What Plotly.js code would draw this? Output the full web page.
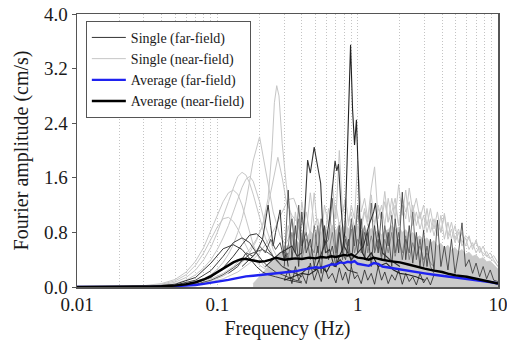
<!DOCTYPE html>
<html><head><meta charset="utf-8">
<script src="https://cdn.plot.ly/plotly-3.0.1.min.js"></script>
<style>html,body{margin:0;padding:0;background:#fff;}#chart{width:507px;height:343px;}</style>
</head><body><div id="chart"></div>
<script>
// ---------- tick labels ----------
const xDecades = [0.01, 0.1, 1, 10];
const xDecadeLabels = ['0.01', '0.1', '1', '10'];
const yTickVals = [0, 0.8, 1.6, 2.4, 3.2, 4.0];
const yTickText = ['0.0', '0.8', '1.6', '2.4', '3.2', '4.0'];

// ---------- frequency grids (Hz) ----------
const freqHi = [0.30,0.32,0.34,0.36,0.38,0.40,0.43,0.46,0.49,0.52,0.55,0.58,0.62,0.66,0.70,0.74,0.78,0.82,0.86,0.90,0.95,1.00,1.06,1.12,1.18,1.25,1.32,1.40,1.48,1.56,1.65,1.75,1.85,1.96,2.08,2.20,2.33,2.47,2.62,2.78,2.95,3.12,3.30,3.50,3.70,3.92,4.15,4.40,4.66,4.94,5.23,5.54,5.87,6.22,6.59,6.98,7.40,7.84,8.30,8.80,9.32,10.0];
const nearMassFreq = [0.18,0.21,0.24,0.27,0.30,0.32,0.34,0.36,0.38,0.40,0.43,0.46,0.49,0.52,0.55,0.58,0.62,0.66,0.70,0.74,0.78,0.82,0.86,0.90,0.95,1.00,1.06,1.12,1.18,1.25,1.32,1.40,1.48,1.56,1.65,1.75,1.85,1.96,2.08,2.20,2.33,2.47,2.62,2.78,2.95,3.12,3.30,3.50,3.70,3.92,4.15,4.40,4.66,4.94,5.23,5.54,5.87,6.22,6.59,6.98,7.40,7.84,8.30,8.80,9.32,10.0];
const nearSmoothFreq = [0.02,0.03,0.04,0.05,0.06,0.07,0.08,0.09,0.10,0.11,0.12,0.13,0.14,0.15,0.16,0.17,0.18,0.20,0.22,0.25,0.28,0.32,0.36,0.40];
const nearEFreq = [0.03,0.05,0.07,0.09,0.11,0.13,0.15,0.17,0.19,0.21,0.23,0.245,0.255,0.265,0.275,0.29,0.31,0.33,0.36,0.40,0.45,0.50];
const nearFFreq = [0.03,0.05,0.07,0.09,0.11,0.13,0.15,0.17,0.19,0.21,0.23,0.25,0.27,0.29,0.31,0.34,0.37,0.40,0.45,0.50];
const nearGFreq = [0.05,0.08,0.11,0.14,0.17,0.20,0.23,0.26,0.29,0.32,0.35,0.38,0.42,0.46,0.50];
const farSmoothFreq = [0.03,0.05,0.07,0.09,0.11,0.13,0.15,0.17,0.19,0.21,0.23,0.26,0.29,0.32,0.36,0.40];
const farSpikeFreq = [0.30,0.35,0.40,0.45,0.50,0.55,0.60,0.65,0.70,0.74,0.78,0.81,0.84,0.87,0.89,0.92,0.95,0.98,1.01,1.04,1.08,1.15,1.25,1.40,1.60,1.80,2.00,2.30,2.60,3.00];
const farDoubleFreq = [0.22,0.25,0.28,0.31,0.34,0.37,0.40,0.42,0.44,0.46,0.475,0.49,0.51,0.53,0.545,0.56,0.59,0.63,0.68,0.75,0.85,1.00];
const farPeak07Freq = [0.40,0.45,0.50,0.55,0.60,0.63,0.66,0.69,0.71,0.73,0.76,0.80,0.85,0.90,1.00,1.10,1.20,1.30,1.34,1.40,1.50,1.70,2.00];
const farMidAFreq = [0.15,0.17,0.19,0.21,0.22,0.23,0.24,0.25,0.26,0.27,0.28,0.29,0.30,0.31,0.32];
const farMidBFreq = [0.12,0.14,0.16,0.18,0.20,0.22,0.24,0.26,0.28,0.30,0.32];
const avgFreq = [0.01,0.02,0.03,0.04,0.05,0.06,0.07,0.08,0.09,0.10,0.11,0.12,0.13,0.14,0.15,0.16,0.18,0.20,0.22,0.24,0.26,0.28,0.30,0.33,0.36,0.40,0.45,0.50,0.55,0.60,0.65,0.70,0.75,0.80,0.85,0.90,0.95,1.00,1.10,1.20,1.30,1.40,1.50,1.70,2.00,2.30,2.60,3.00,3.50,4.00,4.50,5.00,6.00,7.00,8.00,9.00,10.0];

// ---------- near-field singles (cm/s) ----------
const nearMass = [0.05,0.20,0.35,0.45,0.55,0.62,0.55,0.70,0.64,0.78,0.70,0.82,0.75,0.86,0.78,0.88,0.80,0.90,0.82,0.92,0.84,0.90,0.85,0.93,0.84,0.90,0.82,0.88,0.80,0.86,0.78,0.84,0.76,0.82,0.84,0.90,0.84,0.88,0.80,0.84,0.76,0.80,0.72,0.75,0.68,0.72,0.64,0.68,0.60,0.64,0.57,0.61,0.54,0.58,0.51,0.55,0.48,0.51,0.45,0.47,0.41,0.43,0.37,0.38,0.32,0.26];
const nearA = [0.00,0.01,0.03,0.07,0.14,0.25,0.40,0.58,0.80,1.02,1.25,1.45,1.62,1.68,1.64,1.52,1.36,1.02,0.72,0.45,0.32,0.22,0.18,0.12];
const nearB = [0.00,0.01,0.02,0.05,0.10,0.18,0.28,0.40,0.55,0.72,0.90,1.10,1.30,1.46,1.58,1.62,1.55,1.25,0.90,0.55,0.35,0.25,0.20,0.15];
const nearC = [0.00,0.02,0.05,0.11,0.22,0.38,0.58,0.82,1.05,1.25,1.38,1.42,1.36,1.20,1.00,0.80,0.62,0.40,0.28,0.20,0.15,0.12,0.10,0.08];
const nearD = [0.00,0.00,0.01,0.02,0.04,0.07,0.12,0.18,0.26,0.36,0.48,0.62,0.80,1.00,1.25,1.55,1.85,2.20,1.75,1.10,0.75,0.55,0.45,0.35];
const nearH = [0.00,0.01,0.04,0.09,0.18,0.32,0.50,0.70,0.88,1.00,1.02,0.96,0.85,0.72,0.60,0.50,0.42,0.32,0.26,0.20,0.16,0.12,0.10,0.08];
const nearE = [0,0.02,0.06,0.12,0.20,0.30,0.42,0.55,0.70,0.90,1.30,2.00,2.70,2.95,2.80,2.10,1.50,1.10,0.80,0.60,0.45,0.35];
const nearF = [0,0.01,0.04,0.09,0.16,0.25,0.36,0.50,0.68,0.90,1.20,1.55,1.90,1.60,1.25,1.05,0.95,0.70,0.50,0.35];
const nearG = [0.01,0.05,0.12,0.22,0.35,0.50,0.68,0.88,1.10,1.28,1.30,1.10,0.85,0.60,0.45];
const nearN1 = [0.5,0.9,0.6,1.1,0.7,1.25,0.8,1.38,0.9,1.0,0.7,1.2,0.9,1.5,1.0,2.0,1.1,1.3,0.9,1.2,1.0,1.85,1.1,1.3,1.0,1.45,1.76,1.0,1.2,0.9,1.3,1.0,1.2,0.9,1.3,1.1,1.25,0.9,1.1,0.85,1.05,0.8,1.0,0.75,0.95,0.8,1.05,0.7,0.85,0.65,0.8,0.6,0.72,0.55,0.65,0.5,0.6,0.45,0.52,0.42,0.46,0.35];
const nearN2 = [0.6,0.7,1.0,0.6,0.9,0.7,1.1,0.75,1.38,0.8,1.0,0.7,1.15,0.8,1.2,0.9,1.05,1.3,0.95,1.1,0.85,1.2,0.9,1.15,0.95,1.35,0.9,1.2,1.0,1.4,0.95,1.3,1.0,1.5,1.05,1.42,0.95,1.2,0.9,1.1,0.8,1.15,0.8,1.0,0.75,1.05,0.7,0.95,0.7,0.9,0.65,0.8,0.6,0.75,0.55,0.69,0.5,0.6,0.45,0.5,0.4,0.3];
const nearN3 = [0.4,0.5,0.45,0.6,0.5,0.7,0.55,0.75,0.6,0.8,0.65,0.85,0.7,0.9,0.75,0.95,0.8,1.0,0.75,0.9,0.8,1.05,0.85,1.1,0.9,1.0,0.95,1.15,1.0,1.25,0.95,1.1,1.3,0.9,1.2,1.0,1.45,1.1,1.3,1.0,1.2,0.9,1.15,0.85,1.1,0.8,1.08,0.75,0.95,0.7,0.85,0.65,0.75,0.7,0.6,0.65,0.55,0.5,0.45,0.42,0.38,0.3];

// ---------- far-field singles (cm/s) ----------
const farA = [0,0.02,0.06,0.14,0.28,0.45,0.62,0.76,0.78,0.70,0.55,0.40,0.30,0.25,0.20,0.15];
const farB = [0,0.03,0.10,0.24,0.45,0.65,0.72,0.65,0.50,0.38,0.30,0.22,0.18,0.14,0.10,0.08];
const farC = [0,0.01,0.04,0.10,0.18,0.28,0.38,0.48,0.52,0.55,0.50,0.42,0.30,0.25,0.20,0.15];
const farD = [0,0.04,0.14,0.35,0.56,0.62,0.55,0.42,0.30,0.22,0.18,0.15,0.12,0.10,0.08,0.06];
const farSpike = [0.10,0.15,0.20,0.18,0.25,0.30,0.22,0.35,0.30,0.45,0.55,0.80,1.80,3.00,3.55,2.60,2.08,2.45,1.60,0.90,0.50,0.40,0.50,0.30,0.35,0.25,0.20,0.18,0.15,0.10];
const farDouble = [0.30,0.40,0.50,0.55,0.60,0.45,0.50,1.10,1.86,1.67,1.85,2.05,1.85,1.65,1.52,1.00,0.50,0.55,0.30,0.40,0.25,0.20];
const farPeak07 = [0.20,0.30,0.25,0.50,0.70,1.00,1.50,1.85,1.70,1.80,1.20,0.60,0.50,0.40,0.50,0.60,0.90,1.10,1.23,0.80,0.50,0.40,0.30];
const farMidA = [0.30,0.40,0.50,0.70,0.95,1.20,0.90,0.60,0.80,1.00,1.13,0.70,0.40,0.50,0.30];
const farMidB = [0.20,0.30,0.50,0.45,0.60,0.50,0.70,0.55,0.65,0.40,0.50];
// spans 0.30–10 Hz on freqHi
const farN1 = [0.3,1.42,0.4,0.9,0.3,1.1,0.5,0.7,0.3,0.6,0.2,0.9,0.4,0.6,0.3,0.8,0.5,0.4,0.7,0.3,0.9,0.5,1.0,0.4,0.8,0.3,0.9,0.5,1.1,0.4,0.8,0.3,1.0,0.5,1.39,0.4,0.9,0.35,0.8,0.3,0.83,0.3,0.7,0.25,0.98,0.3,0.6,0.25,0.7,0.2,0.5,0.94,0.3,0.4,0.2,0.35,0.15,0.3,0.12,0.25,0.1,0.08];
// span 0.30–3.5 Hz on freqHi
const farN2 = [0.5,0.6,1.0,0.5,1.2,0.6,0.8,0.4,0.9,0.5,1.0,0.6,0.7,1.3,0.5,0.9,0.4,0.7,0.5,1.0,0.6,1.2,0.5,0.8,0.6,1.23,0.5,0.7,0.4,0.9,0.6,1.05,0.5,0.8,0.4,0.7,0.5,1.1,0.4,0.7,0.3,0.6,0.3,0.2];
const farN3 = [0.1,0.25,0.05,0.3,0.1,0.2,0.05,0.35,0.1,0.25,0.08,0.3,0.12,0.2,0.06,0.28,0.1,0.22,0.05,0.3,0.12,0.18,0.05,0.25,0.1,0.2,0.04,0.3,0.1,0.22,0.05,0.18,0.1,0.25,0.04,0.2,0.08,0.15,0.03,0.2,0.06,0.14,0.03,0.18];
const farN4 = [0.6,0.4,0.8,0.5,1.0,0.4,0.7,0.6,0.5,0.9,0.4,0.7,0.5,0.8,0.45,0.9,0.5,0.75,0.6,0.85,0.5,0.7,0.6,0.9,0.5,0.75,0.55,0.8,0.45,0.7,0.5,0.8,0.45,0.7,0.5,0.75,0.4,0.65,0.45,0.6,0.4,0.5,0.35,0.3];

// ---------- averages (cm/s) ----------
const avgNear = [0,0,0.005,0.01,0.02,0.04,0.07,0.11,0.16,0.22,0.27,0.32,0.36,0.39,0.41,0.41,0.39,0.37,0.38,0.40,0.43,0.41,0.40,0.41,0.42,0.41,0.43,0.42,0.44,0.43,0.45,0.44,0.46,0.47,0.46,0.48,0.45,0.43,0.42,0.40,0.43,0.41,0.40,0.38,0.36,0.33,0.30,0.27,0.24,0.22,0.19,0.17,0.15,0.12,0.10,0.08,0.05];
const avgFar = [0,0,0.003,0.006,0.012,0.02,0.03,0.045,0.06,0.075,0.09,0.105,0.12,0.135,0.145,0.155,0.165,0.175,0.185,0.19,0.20,0.21,0.22,0.23,0.23,0.25,0.27,0.29,0.28,0.31,0.33,0.33,0.36,0.35,0.37,0.36,0.38,0.34,0.32,0.31,0.35,0.34,0.30,0.28,0.26,0.24,0.22,0.20,0.18,0.16,0.15,0.14,0.12,0.10,0.08,0.07,0.05];

// ---------- build traces ----------
const NEAR_COL = '#c6c6c6';
const traces = [];
function line(x, y, color, width, legendName, rank) {
  traces.push({
    type: 'scatter', mode: 'lines', x: x.slice(0, y.length), y: y,
    line: {color: color, width: width},
    name: legendName || '', showlegend: !!legendName,
    legendrank: rank || 1000, hoverinfo: 'skip'
  });
}
// near-field dense mass
traces.push({type:'scatter', mode:'lines', x: nearMassFreq, y: nearMass, fill:'tozeroy',
  fillcolor: '#cacaca', line:{color: '#cacaca', width:0.8}, showlegend:false, hoverinfo:'skip'});
line(nearSmoothFreq, nearA, NEAR_COL, 1, 'Single (near-field)', 2);
[nearB, nearC, nearD, nearH].forEach(y => line(nearSmoothFreq, y, NEAR_COL, 1));
line(nearEFreq, nearE, NEAR_COL, 1);
line(nearFFreq, nearF, NEAR_COL, 1);
line(nearGFreq, nearG, NEAR_COL, 1);
[nearN1, nearN2, nearN3].forEach(y => line(freqHi, y, NEAR_COL, 1));
// far-field
line(farSmoothFreq, farA, '#333', 1, 'Single (far-field)', 1);
line(farSmoothFreq, farB, '#444', 1);
line(farSmoothFreq, farC, '#555', 1);
line(farSmoothFreq, farD, '#3a3a3a', 1);
line(farMidAFreq, farMidA, '#333', 1);
line(farMidBFreq, farMidB, '#555', 1);
line(freqHi, farN4, '#777', 0.8);
line(freqHi, farN2, '#555', 0.8);
line(freqHi, farN3, '#222', 0.8);
line(freqHi, farN1, '#333', 0.8);
line(farDoubleFreq, farDouble, '#333', 1.1);
line(farPeak07Freq, farPeak07, '#333', 1.1);
line(farSpikeFreq, farSpike, '#222', 1.1);
// averages
line(avgFreq, avgFar, '#1f22f0', 2.4, 'Average (far-field)', 3);
line(avgFreq, avgNear, '#000', 2.4, 'Average (near-field)', 4);

// grid positions at every 1..9 multiple of each decade (labels only at decades)
const gridVals = [], gridText = [];
xDecades.forEach((d, i) => {
  for (let m = 1; m <= 9; m++) {
    if (i === xDecades.length - 1 && m > 1) break;
    gridVals.push(d * m);
    gridText.push(m === 1 ? xDecadeLabels[i] : '');
  }
});

const FONT = 'Liberation Serif, Times New Roman, serif';
const layout = {
  width: 507, height: 343,
  margin: {l: 77, r: 9, t: 14, b: 56},
  paper_bgcolor: '#fff', plot_bgcolor: '#fff',
  font: {family: FONT, color: '#1a1a1a', size: 18},
  showlegend: true,
  legend: {x: 0.021, y: 0.975, xanchor: 'left', yanchor: 'top', bgcolor: '#fff',
    bordercolor: '#555', borderwidth: 1, font: {family: FONT, size: 14, color: '#1a1a1a'},
    tracegroupgap: 0, traceorder: 'normal', itemwidth: 34},
  xaxis: {type: 'log', range: [-2, 1], tickmode: 'array', tickvals: gridVals, ticktext: gridText,
    ticks: '', showgrid: true, gridcolor: '#c4c4c4', griddash: '1px,2px', gridwidth: 1,
    showline: true, linecolor: '#555', linewidth: 1.5, mirror: true, zeroline: false,
    ticklabeloverflow: 'allow',
    tickfont: {family: FONT, size: 19},
    title: {text: 'Frequency (Hz)', font: {family: FONT, size: 20}, standoff: 6}},
  yaxis: {range: [0, 4], tickmode: 'array', tickvals: yTickVals, ticktext: yTickText,
    ticks: 'outside', ticklen: 4, tickcolor: '#555', showgrid: false,
    showline: true, linecolor: '#555', linewidth: 1.5, mirror: true, zeroline: false,
    tickfont: {family: FONT, size: 19},
    title: {text: 'Fourier amplitude (cm/s)', font: {family: FONT, size: 20}, standoff: 10}}
};
Plotly.newPlot('chart', traces, layout, {staticPlot: true, displayModeBar: false});
</script></body></html>
